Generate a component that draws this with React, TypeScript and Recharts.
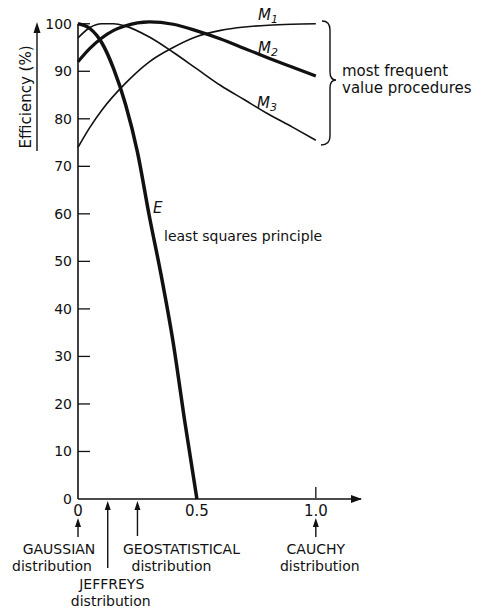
import { LineChart, Line, XAxis, YAxis, ReferenceLine } from "recharts"

// efficiency curves (x = distribution parameter, y = efficiency %)
const eX = [0, 0.05, 0.1, 0.15, 0.2, 0.25, 0.3, 0.35, 0.4, 0.45, 0.5]
const eY = [100, 99, 96, 90.5, 83, 73, 59.5, 47, 33, 16, 0]
const m1X = [0, 0.05, 0.1, 0.2, 0.3, 0.4, 0.5, 0.6, 0.7, 0.8, 0.9, 1.0]
const m1Y = [74, 78.2, 81.8, 87.5, 92, 95, 97.3, 98.6, 99.3, 99.7, 99.9, 100]
const m2X = [0, 0.05, 0.1, 0.15, 0.2, 0.3, 0.4, 0.5, 0.6, 0.7, 0.8, 0.9, 1.0]
const m2Y = [92, 94.8, 97, 98.6, 99.6, 100.4, 99.9, 98.5, 96.8, 94.8, 92.8, 90.9, 89]
const m3X = [0, 0.05, 0.1, 0.15, 0.2, 0.3, 0.4, 0.5, 0.6, 0.7, 0.8, 0.9, 1.0]
const m3Y = [97, 99.2, 100, 100, 99.5, 97.2, 94, 90.5, 87, 84, 81, 78.3, 75.5]

const yTicks = [0, 10, 20, 30, 40, 50, 60, 70, 80, 90, 100]
const xTicks = [0, 0.5, 1.0]
const xTickLabels = ["0", "0.5", "1.0"]

const distNames = ["GAUSSIAN", "JEFFREYS", "GEOSTATISTICAL", "CAUCHY"]
const distX = [0, 0.125, 0.25, 1.0]

const toPoints = (xs: number[], ys: number[]) => xs.map((x, i) => ({ x, y: ys[i] }))

const FONT = "'DejaVu Sans', sans-serif"
const W = 489
const H = 614
// plot box (must agree with margins below)
const LEFT = 78
const RIGHT = 361
const TOP = 19
const BOTTOM = 499
const X_MAX = 1.19
const Y_MAX = 101
const px = (v: number) => LEFT + (v / X_MAX) * (RIGHT - LEFT)

// label placement for the distribution notes under the axis
const distLayout = [
  { dx: -19, dx2: -26, top: 518, bottom: 537, line1: 554, line2: 570.5 },
  { dx: 4, dx2: 3, top: 501, bottom: 568, line1: 589, line2: 605.5 },
  { dx: 44, dx2: 34, top: 501, bottom: 536, line1: 554, line2: 570.5 },
  { dx: 0, dx2: 4, top: 518, bottom: 537, line1: 554, line2: 570.5 },
]

function YTick({ x, y, payload }: any) {
  return (
    <g>
      <text x={x} y={y} dy={5} textAnchor="end" fontSize={14} fontFamily={FONT} fill="#111">
        {payload.value}
      </text>
      {payload.value > 0 && (
        <line x1={x + 6} x2={x + 18} y1={y} y2={y} stroke="#111" strokeWidth={1.3} />
      )}
    </g>
  )
}

function XTick({ x, y, payload, index }: any) {
  return (
    <g>
      <text x={x} y={y} dy="0.71em" textAnchor="middle" fontSize={15} fontFamily={FONT} fill="#111">
        {xTickLabels[index]}
      </text>
      {payload.value === 1 && (
        <line x1={x} x2={x} y1={y - 7} y2={y - 18} stroke="#111" strokeWidth={1.3} />
      )}
    </g>
  )
}

function Arrow({ x, top, bottom }: { x: number; top: number; bottom: number }) {
  return (
    <g>
      <line x1={x} x2={x} y1={bottom} y2={top + 6} stroke="#111" strokeWidth={1.4} />
      <polygon points={`${x},${top} ${x - 3},${top + 9} ${x + 3},${top + 9}`} fill="#111" />
    </g>
  )
}

export default function App() {
  const txt = { fontFamily: FONT, fill: "#111" }
  return (
    <div style={{ position: "absolute", left: 0, top: 0, width: W, height: H, background: "#fff" }}>
      <LineChart
        width={W}
        height={H}
        margin={{ top: TOP, right: W - RIGHT, bottom: H - BOTTOM - 30, left: LEFT - 60 }}
      >
        <XAxis
          dataKey="x"
          type="number"
          domain={[0, X_MAX]}
          ticks={xTicks}
          height={30}
          tickSize={0}
          tickMargin={6}
          tick={<XTick />}
          axisLine={{ stroke: "#111", strokeWidth: 1.6 }}
          tickLine={false}
        />
        <YAxis
          type="number"
          domain={[0, Y_MAX]}
          ticks={yTicks}
          width={60}
          tickSize={0}
          tickMargin={6}
          tick={<YTick />}
          axisLine={false}
          tickLine={false}
        />
        <ReferenceLine
          segment={[{ x: 0, y: 0 }, { x: 0, y: 100 }]}
          stroke="#111"
          strokeWidth={1.6}
        />
        <Line data={toPoints(m1X, m1Y)} dataKey="y" type="monotone" stroke="#111" strokeWidth={1.6} dot={false} isAnimationActive={false} />
        <Line data={toPoints(m3X, m3Y)} dataKey="y" type="monotone" stroke="#111" strokeWidth={1.6} dot={false} isAnimationActive={false} />
        <Line data={toPoints(m2X, m2Y)} dataKey="y" type="monotone" stroke="#111" strokeWidth={3.2} dot={false} isAnimationActive={false} />
        <Line data={toPoints(eX, eY)} dataKey="y" type="monotone" stroke="#111" strokeWidth={3.5} dot={false} isAnimationActive={false} />

        {/* x axis arrowhead */}
        <polygon points={`${RIGHT + 1},${BOTTOM} ${RIGHT - 10},${BOTTOM - 4} ${RIGHT - 10},${BOTTOM + 4}`} fill="#111" />

        {/* y axis title with arrow */}
        <text transform="translate(31, 97) rotate(-90)" textAnchor="middle" fontSize={15} {...txt}>
          Efficiency (%)
        </text>
        <line x1={37} x2={37} y1={151} y2={30} stroke="#111" strokeWidth={1.4} />
        <polygon points="37,22 33.5,33 40.5,33" fill="#111" />

        {/* curve labels */}
        <text x={258} y={20} fontSize={15} fontStyle="italic" {...txt}>
          M<tspan dy={3} fontSize={11}>1</tspan>
        </text>
        <text x={258} y={53} fontSize={15} fontStyle="italic" {...txt}>
          M<tspan dy={3} fontSize={11}>2</tspan>
        </text>
        <text x={257} y={108} fontSize={15} fontStyle="italic" {...txt}>
          M<tspan dy={3} fontSize={11}>3</tspan>
        </text>
        <text x={153} y={213} fontSize={15} fontStyle="italic" {...txt}>E</text>
        <text x={164} y={241} fontSize={14} {...txt}>least squares principle</text>

        {/* brace + note */}
        <path
          d="M 322 21 Q 330 21 330 30 L 330 72 Q 330 80 336 80 Q 330 80 330 88 L 330 136 Q 330 145 321 145"
          fill="none"
          stroke="#111"
          strokeWidth={1.4}
        />
        <text x={342} y={76} fontSize={15} {...txt}>most frequent</text>
        <text x={342} y={93} fontSize={15} {...txt}>value procedures</text>

        {/* distributions marked below the axis */}
        {distNames.map((name, i) => {
          const x = px(distX[i])
          const l = distLayout[i]
          return (
            <g key={name}>
              <Arrow x={x} top={l.top} bottom={l.bottom} />
              <text x={x + l.dx} y={l.line1} textAnchor="middle" fontSize={14} {...txt}>{name}</text>
              <text x={x + l.dx2} y={l.line2} textAnchor="middle" fontSize={14} {...txt}>distribution</text>
            </g>
          )
        })}
      </LineChart>
    </div>
  )
}
